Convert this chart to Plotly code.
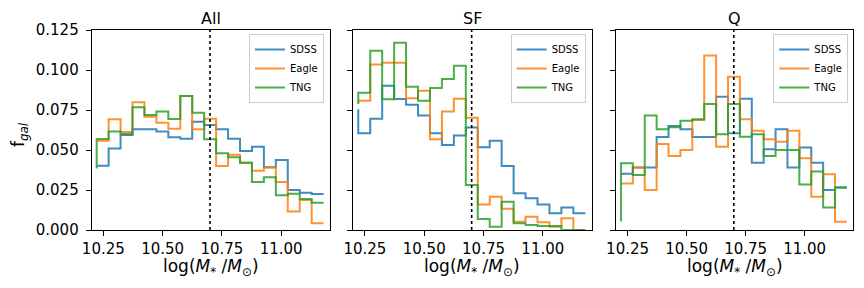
import plotly.graph_objects as go

# bin edges (log stellar mass); first y value of each series is the level at the left edge
bin_edges = [10.222 + i * (11.179 - 10.222) / 19 for i in range(20)]

panels = ["All", "SF", "Q"]
series_names = ["SDSS", "Eagle", "TNG"]

all_sdss = [0.0402, 0.0402, 0.0510, 0.0594, 0.0629, 0.0629, 0.0615, 0.0579, 0.0571, 0.0677, 0.0656,
            0.0629, 0.0571, 0.0494, 0.0521, 0.0392, 0.0438, 0.0250, 0.0233, 0.0225]
all_eagle = [0.0558, 0.0558, 0.0692, 0.0613, 0.0798, 0.0708, 0.0671, 0.0633, 0.0838, 0.0629, 0.0696,
             0.0400, 0.0470, 0.0420, 0.0370, 0.0390, 0.0300, 0.0115, 0.0188, 0.0042]
all_tng = [0.0385, 0.0569, 0.0615, 0.0600, 0.0767, 0.0719, 0.0740, 0.0694, 0.0838, 0.0733, 0.0567,
           0.0480, 0.0454, 0.0420, 0.0300, 0.0330, 0.0217, 0.0227, 0.0194, 0.0171]

sf_sdss = [0.0754, 0.0604, 0.0696, 0.0902, 0.0819, 0.0783, 0.0715, 0.0604, 0.0531, 0.0590, 0.0640,
           0.0517, 0.0558, 0.0400, 0.0229, 0.0198, 0.0160, 0.0104, 0.0140, 0.0104]
sf_eagle = [0.0808, 0.0808, 0.1035, 0.1046, 0.1046, 0.0823, 0.0871, 0.0567, 0.0740, 0.0821, 0.0702,
            0.0160, 0.0208, 0.0133, 0.0052, 0.0083, 0.0048, 0.0021, 0.0073, 0.0000]
sf_tng = [0.0788, 0.0858, 0.1120, 0.0817, 0.1170, 0.0896, 0.0808, 0.0888, 0.0944, 0.1027, 0.0281,
          0.0069, 0.0021, 0.0177, 0.0042, 0.0031, 0.0025, 0.0025, 0.0000, 0.0000]

q_sdss = [0.0352, 0.0352, 0.0390, 0.0390, 0.0581, 0.0650, 0.0629, 0.0581, 0.0581, 0.0833, 0.0604,
          0.0821, 0.0420, 0.0504, 0.0629, 0.0390, 0.0515, 0.0420, 0.0250, 0.0265]
q_eagle = [0.0290, 0.0290, 0.0390, 0.0250, 0.0538, 0.0463, 0.0500, 0.0688, 0.1090, 0.0521, 0.0958,
           0.0692, 0.0621, 0.0567, 0.0552, 0.0621, 0.0448, 0.0208, 0.0348, 0.0052]
q_tng = [0.0055, 0.0417, 0.0344, 0.0715, 0.0629, 0.0642, 0.0683, 0.0692, 0.0788, 0.0598, 0.0788,
         0.0583, 0.0598, 0.0463, 0.0500, 0.0500, 0.0285, 0.0365, 0.0140, 0.0265]

panel_data = [[all_sdss, all_eagle, all_tng], [sf_sdss, sf_eagle, sf_tng], [q_sdss, q_eagle, q_tng]]

y_ticks = [0.0, 0.025, 0.05, 0.075, 0.1, 0.125]
x_ticks = [10.25, 10.5, 10.75, 11.0]
x_tick_labels = ["10.25", "10.50", "10.75", "11.00"]
split_mass = 10.7

colors = ["#1f77b4", "#ff7f0e", "#2ca02c"]
W, H = 864, 288
OFF = 8  # page body margin: screen pixel = figure pixel + OFF


def px(x):
    return (x - OFF) / W


def py(y):
    return (H - (y - OFF)) / H


x_domains = [(91.7, 330.0), (353.3, 591.7), (616.0, 853.3)]
y_dom = [py(230), py(30)]
legend_right = [324, 585.7, 848.3]

fig = go.Figure()
for p in range(3):
    ax = "" if p == 0 else str(p + 1)
    leg = "legend" if p == 0 else f"legend{p + 1}"
    for s in range(3):
        fig.add_trace(go.Scatter(
            x=bin_edges, y=panel_data[p][s], mode="lines", line_shape="vh",
            line=dict(color=colors[s], width=2), opacity=0.85,
            name=series_names[s], xaxis="x" + ax, yaxis="y" + ax, legend=leg,
        ))
    fig.add_shape(type="line", x0=split_mass, x1=split_mass, y0=0, y1=1,
                  xref="x" + ax, yref=("y" + ax + " domain"),
                  line=dict(color="black", width=1.6, dash="dot"))
    x0, x1 = x_domains[p]
    fig.add_annotation(text=panels[p], x=px((x0 + x1) / 2), y=py(19),
                       xref="paper", yref="paper", showarrow=False,
                       font=dict(size=16, color="black"), xanchor="center", yanchor="middle")
    fig.add_annotation(text="log(<i>M</i><sub>*</sub> /<i>M</i><sub>⊙</sub>)",
                       x=px((x0 + x1) / 2), y=py(267),
                       xref="paper", yref="paper", showarrow=False,
                       font=dict(size=17, color="black"), xanchor="center", yanchor="middle")
    axis_common = dict(showline=True, mirror=True, linecolor="black", linewidth=1,
                       ticks="outside", ticklen=5, tickcolor="black",
                       showgrid=False, zeroline=False, automargin=False)
    fig.update_layout(**{
        "xaxis" + ax: dict(domain=[px(x0), px(x1)], range=[10.201, 11.206],
                           tickvals=x_ticks, ticktext=x_tick_labels,
                           anchor="y" + ax,
                           tickfont=dict(size=15, color="black"), **axis_common),
        "yaxis" + ax: dict(domain=y_dom, range=[0, 0.125], tickvals=y_ticks,
                           tickformat=".3f", anchor="x" + ax,
                           showticklabels=(p == 0), ticklabelstandoff=4,
                           tickfont=dict(size=15, color="black"), **axis_common),
        leg: dict(x=px(legend_right[p]), y=py(34), xanchor="right", yanchor="top",
                  bgcolor="rgba(255,255,255,0.8)", bordercolor="#cccccc", borderwidth=1,
                  font=dict(size=10, color="black"), itemwidth=30, tracegroupgap=0),
    })

fig.add_annotation(text="f<sub><i>gal</i></sub>", x=px(19), y=py(135),
                   xref="paper", yref="paper", showarrow=False, textangle=-90,
                   font=dict(size=17, color="black"), xanchor="center", yanchor="middle")

fig.update_layout(
    width=W, height=H, margin=dict(l=0, r=0, t=0, b=0),
    paper_bgcolor="white", plot_bgcolor="white",
    font=dict(family="DejaVu Sans", color="black"),
    showlegend=True,
)

fig.write_html("out.html")
